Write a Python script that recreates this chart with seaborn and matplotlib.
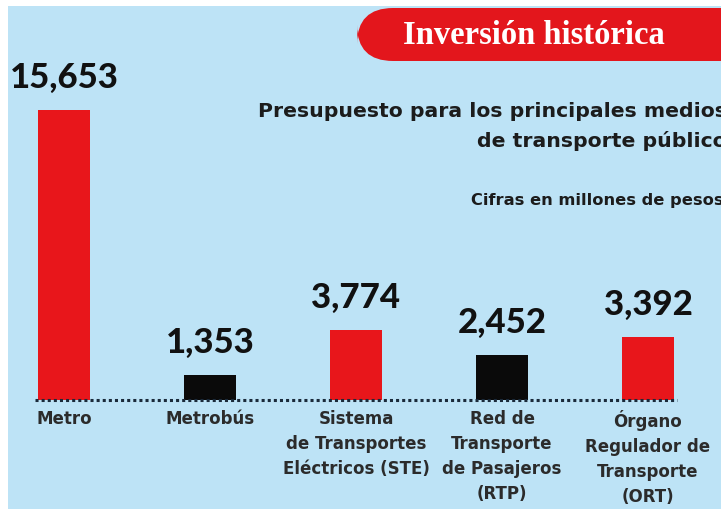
import matplotlib
matplotlib.use("Agg")
import matplotlib.pyplot as plt
from matplotlib.patches import FancyBboxPatch, Rectangle
import seaborn as sns
import pandas as pd

categories = ["Metro", "Metrobús", "Sistema\nde Transportes\nEléctricos (STE)",
              "Red de\nTransporte\nde Pasajeros\n(RTP)", "Órgano\nRegulador de\nTransporte\n(ORT)"]
values = [15653, 1353, 3774, 2452, 3392]
value_labels = ["15,653", "1,353", "3,774", "2,452", "3,392"]
bar_colors = ["#e8161b", "#0a0a0a", "#e8161b", "#0a0a0a", "#e8161b"]

title = "Inversión histórica"
subtitle = "Presupuesto para los principales medios\nde transporte público"
note = "Cifras en millones de pesos"

BG = "#bde3f6"
W, H = 721, 509

sns.set_theme(style="white")
plt.rcParams["font.family"] = ["DejaVu Sans"]

fig = plt.figure(figsize=(W / 100, H / 100), dpi=100)
fig.patch.set_facecolor(BG)
# white strips at top and left
fig.patches.append(Rectangle((0, 1 - 6 / H), 1, 6 / H, transform=fig.transFigure,
                             facecolor="white", edgecolor="none", zorder=0))
fig.patches.append(Rectangle((0, 0), 8 / W, 1, transform=fig.transFigure,
                             facecolor="white", edgecolor="none", zorder=0))

base_px = 400
ax = fig.add_axes([0, (H - base_px) / H, 1, base_px / H])
ax.set_zorder(1)
ax.set_facecolor("none")
df = pd.DataFrame({"cat": categories, "val": values})
sns.barplot(data=df, x="cat", y="val", hue="cat", palette=bar_colors, legend=False,
            width=0.36, ax=ax, saturation=1, edgecolor="none")
spacing = 146.0
ax.set_xlim(-64 / spacing, (W - 64) / spacing)
ax.set_ylim(0, 15653 * base_px / 290)
for s in ax.spines.values():
    s.set_visible(False)
ax.set_xticks([])
ax.set_yticks([])
ax.set_xlabel("")
ax.set_ylabel("")

# dotted baseline
ax.plot([-0.2, 4.2], [0, 0], color="#1a2a3a", lw=2.2, ls=(0, (1, 1)), clip_on=False, zorder=3)

for i, (v, lab) in enumerate(zip(values, value_labels)):
    ax.text(i, v + 850, lab, ha="center", va="bottom",
            fontsize=25, fontweight="black", color="#111111", clip_on=False,
            family=["Lato", "DejaVu Sans"])

for i, c in enumerate(categories):
    ax.text(i, -550, c, ha="center", va="top", fontsize=12, fontweight="bold",
            color="#2b2b2b", linespacing=1.5, clip_on=False,
            family=["Liberation Sans Narrow", "DejaVu Sans"])

# banner
banner = FancyBboxPatch((357 / W, (H - 61) / H), 420 / W, 53 / H,
                        boxstyle="round,pad=0,rounding_size=0.05",
                        transform=fig.transFigure, facecolor="#e3161c", edgecolor="none",
                        mutation_aspect=W / H, zorder=2)
fig.patches.append(banner)
fig.text(534 / W, 1 - 35 / H, title, ha="center", va="center", color="white",
         fontsize=23.5, fontweight="bold", family=["Liberation Serif", "DejaVu Serif"], zorder=3)

fig.text(727 / W, 1 - 102 / H, subtitle, ha="right", va="top", color="#1c1c1c",
         fontsize=14.7, fontweight="bold", linespacing=1.63, multialignment="right")
fig.text(724 / W, 1 - 200 / H, note, ha="right", va="center", color="#1c1c1c",
         fontsize=11.7, fontweight="bold")

fig.savefig("out.png", dpi=100, facecolor=fig.get_facecolor())
